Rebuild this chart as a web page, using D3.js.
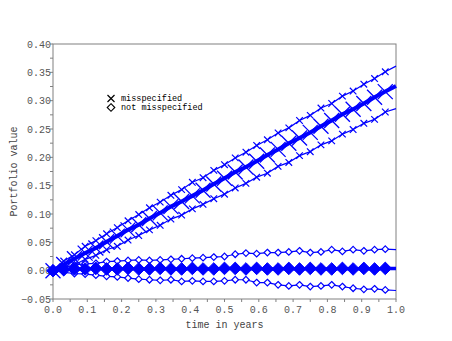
<!DOCTYPE html>
<html>
<head>
<meta charset="utf-8">
<script src="https://cdn.jsdelivr.net/npm/d3@7"></script>
<style>
  html, body { margin: 0; padding: 0; background: #fff; }
  svg { display: block; }
</style>
</head>
<body>
<script>
// ---- data ----
const times = [0, 0.03125, 0.0625, 0.09375, 0.125, 0.15625, 0.1875, 0.21875, 0.25, 0.28125,
  0.3125, 0.34375, 0.375, 0.40625, 0.4375, 0.46875, 0.5, 0.53125, 0.5625, 0.59375,
  0.625, 0.65625, 0.6875, 0.71875, 0.75, 0.78125, 0.8125, 0.84375, 0.875, 0.90625,
  0.9375, 0.96875, 1.0];

const misMean  = [0.000,0.011,0.021,0.031,0.040,0.051,0.061,0.072,0.081,0.092,0.102,0.113,0.122,0.132,0.142,0.153,0.163,0.174,0.183,0.193,0.204,0.214,0.225,0.234,0.244,0.255,0.265,0.276,0.285,0.295,0.306,0.316,0.326];
const misUpper = [0.000,0.017,0.028,0.043,0.053,0.065,0.076,0.088,0.099,0.111,0.121,0.133,0.143,0.156,0.164,0.177,0.187,0.199,0.209,0.221,0.231,0.243,0.252,0.265,0.274,0.287,0.295,0.308,0.317,0.329,0.339,0.351,0.361];
const misLower = [0.000,0.005,0.010,0.020,0.027,0.037,0.043,0.054,0.062,0.072,0.080,0.091,0.098,0.109,0.117,0.127,0.135,0.146,0.154,0.165,0.172,0.184,0.191,0.203,0.210,0.222,0.229,0.241,0.249,0.260,0.267,0.280,0.286];

const notMean  = [0.000,0.002,0.003,0.003,0.004,0.003,0.003,0.004,0.003,0.003,0.004,0.003,0.003,0.004,0.003,0.003,0.004,0.004,0.003,0.004,0.003,0.003,0.004,0.003,0.004,0.003,0.003,0.004,0.003,0.004,0.003,0.004,0.004];
const notUpper = [0.000,0.006,0.010,0.012,0.013,0.016,0.017,0.018,0.019,0.018,0.019,0.020,0.021,0.022,0.023,0.024,0.025,0.029,0.031,0.030,0.032,0.032,0.033,0.035,0.032,0.033,0.037,0.034,0.037,0.035,0.037,0.038,0.037];
const notLower = [0.000,-0.003,-0.005,-0.006,-0.008,-0.010,-0.011,-0.013,-0.015,-0.016,-0.017,-0.016,-0.019,-0.018,-0.019,-0.019,-0.018,-0.016,-0.016,-0.021,-0.021,-0.025,-0.027,-0.025,-0.028,-0.027,-0.025,-0.028,-0.031,-0.033,-0.032,-0.034,-0.035];

const xTicks = [0, 0.1, 0.2, 0.3, 0.4, 0.5, 0.6, 0.7, 0.8, 0.9, 1.0];
const yTicks = [-0.05, 0, 0.05, 0.10, 0.15, 0.20, 0.25, 0.30, 0.35, 0.40];
const legendLabels = ["misspecified", "not misspecified"];

// ---- layout ----
const W = 452, H = 341;
const L = 53, R = 396, T = 44, B = 299;
const blue = "#0000ff";
const font = "'Liberation Mono', 'DejaVu Sans Mono', monospace";

const svg = d3.select("body").append("svg").attr("width", W).attr("height", H);
svg.append("rect").attr("width", W).attr("height", H).attr("fill", "#fff");

const x = d3.scaleLinear().domain([0, 1]).range([L, R]);
const y = d3.scaleLinear().domain([-0.05, 0.40]).range([B, T]);

// box
svg.append("rect").attr("x", L).attr("y", T).attr("width", R - L).attr("height", B - T)
  .attr("fill", "none").attr("stroke", "#808080").attr("stroke-width", 1);

// x axis
const xMinor = d3.range(0, 21).map(i => i * 0.05);
const xAxis = svg.append("g").attr("transform", `translate(0,${B})`);
xAxis.selectAll("line.minor").data(xMinor).enter().append("line")
  .attr("x1", d => x(d)).attr("x2", d => x(d)).attr("y1", 0).attr("y2", 3)
  .attr("stroke", "#808080");
xAxis.selectAll("text").data(xTicks).enter().append("text")
  .attr("x", d => x(d)).attr("y", 14)
  .attr("text-anchor", "middle")
  .attr("font-family", font).attr("font-size", 10).attr("fill", "#555")
  .text(d => d3.format(".1f")(d));

// y axis
const yMinor = d3.range(0, 19).map(i => -0.05 + i * 0.025);
const yAxis = svg.append("g").attr("transform", `translate(${L},0)`);
yAxis.selectAll("line.minor").data(yMinor).enter().append("line")
  .attr("y1", d => y(d)).attr("y2", d => y(d)).attr("x1", 0).attr("x2", -3)
  .attr("stroke", "#808080");
yAxis.selectAll("text").data(yTicks).enter().append("text")
  .attr("x", -2).attr("y", d => y(d) + 3.5)
  .attr("text-anchor", "end")
  .attr("font-family", font).attr("font-size", 10).attr("fill", "#555")
  .text(d => d3.format(".2f")(d).replace("-", "\u2212"));

// axis titles
svg.append("text").attr("x", (L + R) / 2).attr("y", 328)
  .attr("text-anchor", "middle").attr("font-family", font).attr("font-size", 10).attr("fill", "#444")
  .text("time in years");
svg.append("text").attr("transform", `translate(17,${(T + B) / 2}) rotate(-90)`)
  .attr("text-anchor", "middle").attr("font-family", font).attr("font-size", 10).attr("fill", "#444")
  .text("Portfolio value");

// ---- series ----
const line = d3.line().x((d, i) => x(times[i])).y(d => y(d));
const markIdx = d3.range(0, times.length - 1);

function xMark(g, vals, s, sw) {
  g.selectAll(null).data(markIdx).enter().append("path")
    .attr("d", i => {
      const cx = x(times[i]), cy = y(vals[i]);
      return `M${cx - s},${cy - s}L${cx + s},${cy + s}M${cx - s},${cy + s}L${cx + s},${cy - s}`;
    })
    .attr("stroke", blue).attr("stroke-width", sw).attr("fill", "none");
}
function dMark(g, vals, s, filled, sw) {
  g.selectAll(null).data(markIdx).enter().append("path")
    .attr("d", i => {
      const cx = x(times[i]), cy = y(vals[i]);
      return `M${cx},${cy - s}L${cx + s},${cy}L${cx},${cy + s}L${cx - s},${cy}Z`;
    })
    .attr("stroke", blue).attr("stroke-width", sw)
    .attr("fill", filled ? blue : "#fff");
}

const gNot = svg.append("g");
[notUpper, notLower].forEach(v => {
  gNot.append("path").attr("d", line(v)).attr("fill", "none").attr("stroke", blue).attr("stroke-width", 1.2);
  dMark(gNot, v, 3.3, false, 1.2);
});
gNot.append("path").attr("d", line(notMean)).attr("fill", "none").attr("stroke", blue).attr("stroke-width", 3.5);
dMark(gNot, notMean, 6.3, true, 1);

const gMis = svg.append("g");
[misUpper, misLower].forEach(v => {
  gMis.append("path").attr("d", line(v)).attr("fill", "none").attr("stroke", blue).attr("stroke-width", 1.2);
  xMark(gMis, v, 3.3, 1.2);
});
gMis.append("path").attr("d", line(misMean)).attr("fill", "none").attr("stroke", blue).attr("stroke-width", 4);
xMark(gMis, misMean, 7.5, 1.3);

// ---- legend ----
const lg = svg.append("g");
const lx = 111, ly0 = 98.5, ly1 = 107.5;
lg.append("path").attr("d", `M${lx - 3.5},${ly0 - 3.5}L${lx + 3.5},${ly0 + 3.5}M${lx - 3.5},${ly0 + 3.5}L${lx + 3.5},${ly0 - 3.5}`)
  .attr("stroke", "#000").attr("stroke-width", 1.2);
lg.append("path").attr("d", `M${lx},${ly1 - 3.8}L${lx + 3.8},${ly1}L${lx},${ly1 + 3.8}L${lx - 3.8},${ly1}Z`)
  .attr("stroke", "#000").attr("stroke-width", 1.1).attr("fill", "#fff");
lg.selectAll("text").data(legendLabels).enter().append("text")
  .attr("x", 121).attr("y", (d, i) => (i === 0 ? ly0 : ly1) + 2.8)
  .attr("font-family", font).attr("font-size", 8.5).attr("fill", "#000")
  .text(d => d);
</script>
</body>
</html>
